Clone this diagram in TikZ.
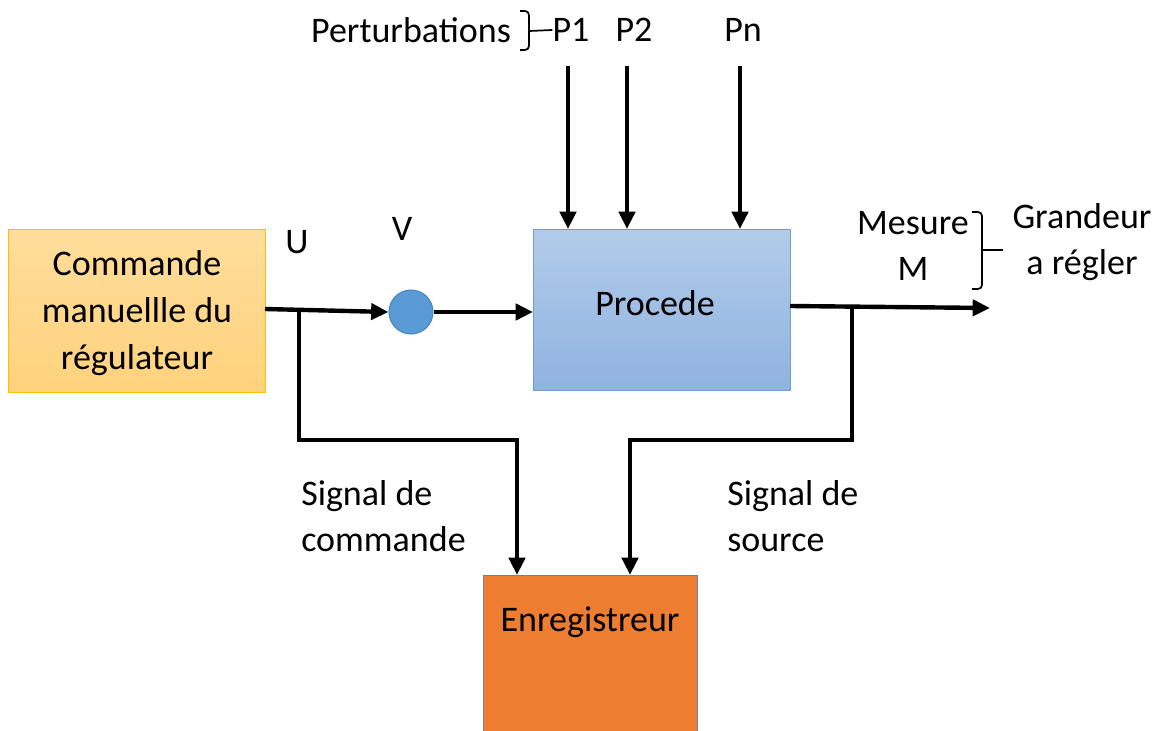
\documentclass[tikz,border=0pt]{standalone}
\usepackage{fontspec}
\setmainfont{Carlito}
\usetikzlibrary{arrows.meta,calc}
\definecolor{orfill1}{HTML}{FFDD9C}
\definecolor{orfill2}{HTML}{FFD27C}
\definecolor{ordraw}{HTML}{FFC000}
\definecolor{blfill1}{HTML}{B2CBEA}
\definecolor{blfill2}{HTML}{8FB3E0}
\definecolor{bldraw}{HTML}{6F9FD8}
\definecolor{enrfill}{HTML}{ED7D31}
\definecolor{enrdraw}{HTML}{5A86B8}
\definecolor{circfill}{HTML}{5B9BD5}
\definecolor{circdraw}{HTML}{4A86C0}
\tikzset{
  lbl/.style={font=\fontsize{27pt}{35pt}\selectfont, inner sep=0pt, align=center},
  arr/.style={line width=3.3pt, -{Triangle[length=13pt,width=12pt]}},
  thin bracket/.style={line width=1.3pt, rounded corners=3pt},
}
\begin{document}
\begin{tikzpicture}[x=0.75pt,y=-0.75pt]
\clip (0,0) rectangle (1163,731);
\useasboundingbox (0,0) rectangle (1163,731);
% boxes
\node (cmd) [draw=ordraw, line width=1pt, top color=orfill1, bottom color=orfill2,
  minimum width=257*0.75pt, minimum height=163*0.75pt, inner sep=0pt, anchor=north west] at (8,229) {};
\node (cmdtxt) [lbl] at (137,313) {Commande\\manuellle du\\régulateur};
\node (proc) [draw=bldraw, line width=1pt, top color=blfill1, bottom color=blfill2,
  minimum width=257*0.75pt, minimum height=161*0.75pt, inner sep=0pt, anchor=north west] at (533,229) {};
\node (proctxt) [lbl] at (655,303) {Procede};
\node (enr) [draw=enrdraw, line width=0.8pt, fill=enrfill,
  minimum width=214*0.75pt, minimum height=170*0.75pt, inner sep=0pt, anchor=north west] at (483,575) {};
\node (enrtxt) [lbl] at (590,622) {Enregistreur};
\node (sum) [circle, draw=circdraw, line width=0.8pt, fill=circfill, minimum size=44*0.75pt, inner sep=0pt] at (411,312) {};
% labels
\node (U) [lbl] at (297,242) {U};
\node (V) [lbl] at (402,229) {V};
\node (pert) [lbl] at (411,30) {Perturbations};
\node (P1) [lbl] at (571,30) {P1};
\node (P2) [lbl] at (634,30) {P2};
\node (Pn) [lbl] at (743,30) {Pn};
\node (mes) [lbl] at (913,246) {Mesure\\M};
\node (gr) [lbl] at (1082,242) {Grandeur\\a régler};
\node (sigc) [lbl, align=left, anchor=west] at (301,516) {Signal de\\commande};
\node (sigs) [lbl, align=left, anchor=west] at (727,516) {Signal de\\source};
% brackets
\draw[thin bracket] (520,11) -- (529,11) -- (529,50) -- (520,50);
\coordinate (pbr) at (529,31);
\draw[line width=1.3pt] (pbr) -- (P1.west);
\draw[thin bracket] (972,212) -- (982,212) -- (982,289) -- (972,289);
\coordinate (mbr) at (982,250);
\coordinate (mbrend) at (1003,250);
\draw[line width=1.3pt] (mbr) -- (mbrend);
% perturbation arrows
\coordinate (p1s) at (568,66);
\coordinate (p2s) at (627,66);
\coordinate (pns) at (740,66);
\draw[arr] (p1s) -- (p1s |- proc.north);
\draw[arr] (p2s) -- (p2s |- proc.north);
\draw[arr] (pns) -- (pns |- proc.north);
% main chain
\coordinate (cmdout) at (265,309);
\draw[arr] (cmdout) -- (sum.west);
\draw[arr] (sum.east) -- (sum.east -| proc.west);
\coordinate (procout) at (790,306);
\coordinate (outend) at (990,308);
\draw[arr] (procout) -- (outend);
% branches to recorder
\coordinate (ubr) at (299,310);
\coordinate (ucorner) at (299,440);
\coordinate (enrin1) at (517,440);
\draw[arr] (ubr) -- (ucorner) -- (enrin1) -- (enrin1 |- enr.north);
\coordinate (mbranch) at (852,307);
\coordinate (mcorner) at (852,440);
\coordinate (enrin2) at (630,440);
\draw[arr] (mbranch) -- (mcorner) -- (enrin2) -- (enrin2 |- enr.north);
\end{tikzpicture}
\end{document}
